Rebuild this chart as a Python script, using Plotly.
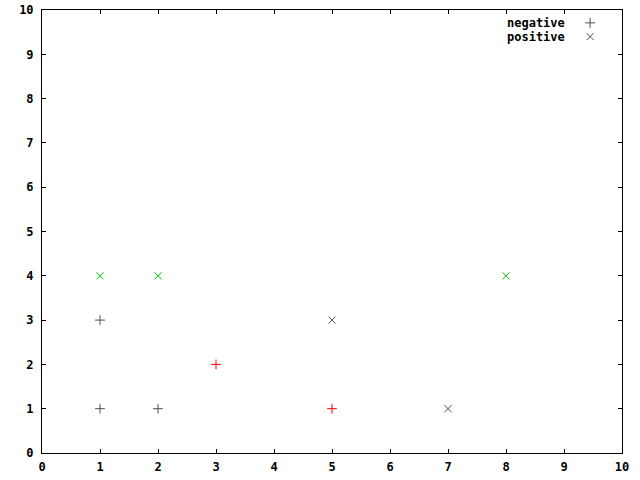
import plotly.graph_objects as go

# data
neg_x = [1, 1, 2, 3, 5]
neg_y = [1, 3, 1, 2, 1]
neg_hl = [False, False, False, True, True]
pos_x = [1, 2, 5, 7, 8]
pos_y = [4, 4, 3, 1, 4]
pos_hl = [True, True, False, False, True]
series_names = ["negative", "positive"]
ticks = list(range(0, 11))

BASE = "#505050"
RED = "#ff0000"
GREEN = "#00c000"
FONT = dict(family="DejaVu Sans Mono", size=12, color="black")

fig = go.Figure()

def add(xs, ys, hl, symbol, hcolor):
    for flag, col in ((False, BASE), (True, hcolor)):
        px = [x for x, h in zip(xs, hl) if h == flag]
        py = [y for y, h in zip(ys, hl) if h == flag]
        fig.add_trace(go.Scatter(
            x=px, y=py, mode="markers", showlegend=False,
            marker=dict(symbol=symbol, size=7, color=col,
                        line=dict(width=1, color=col)),
        ))

add(neg_x, neg_y, neg_hl, "cross-thin", RED)
add(pos_x, pos_y, pos_hl, "x-thin", GREEN)

# legend key samples on an overlay 0..1 axis
key_y = [0.971, 0.940]
fig.add_trace(go.Scatter(
    x=[0.945], y=[key_y[0]], xaxis="x2", yaxis="y2", mode="markers",
    showlegend=False,
    marker=dict(symbol="cross-thin", size=7, color=BASE, line=dict(width=1, color=BASE)),
))
fig.add_trace(go.Scatter(
    x=[0.945], y=[key_y[1]], xaxis="x2", yaxis="y2", mode="markers",
    showlegend=False,
    marker=dict(symbol="x-thin", size=7, color=BASE, line=dict(width=1, color=BASE)),
))
for name, ky in zip(series_names, key_y):
    fig.add_annotation(text="<b>%s</b>" % name, xref="paper", yref="paper",
                       x=0.906, y=ky, xanchor="right", yanchor="middle",
                       showarrow=False, font=FONT)

axis_common = dict(
    range=[0, 10], tickmode="array", tickvals=ticks,
    ticktext=["<b>%d</b>" % t for t in ticks],
    ticks="inside", ticklen=4, tickcolor="black", tickwidth=1,
    showline=True, linecolor="black", linewidth=1, mirror="allticks",
    showgrid=False, zeroline=False, tickfont=FONT, automargin=False,
)
fig.update_layout(
    width=640, height=480,
    margin=dict(l=42, r=18, t=10, b=27, autoexpand=False),
    paper_bgcolor="white", plot_bgcolor="white",
    xaxis=dict(**axis_common, ticklabelstandoff=3),
    yaxis=dict(**axis_common, ticklabelstandoff=5),
    xaxis2=dict(range=[0, 1], overlaying="x", visible=False),
    yaxis2=dict(range=[0, 1], overlaying="y", visible=False),
    showlegend=False,
)

fig.write_html("out.html", config={"displayModeBar": False},
               post_script="document.body.style.margin='0';")
